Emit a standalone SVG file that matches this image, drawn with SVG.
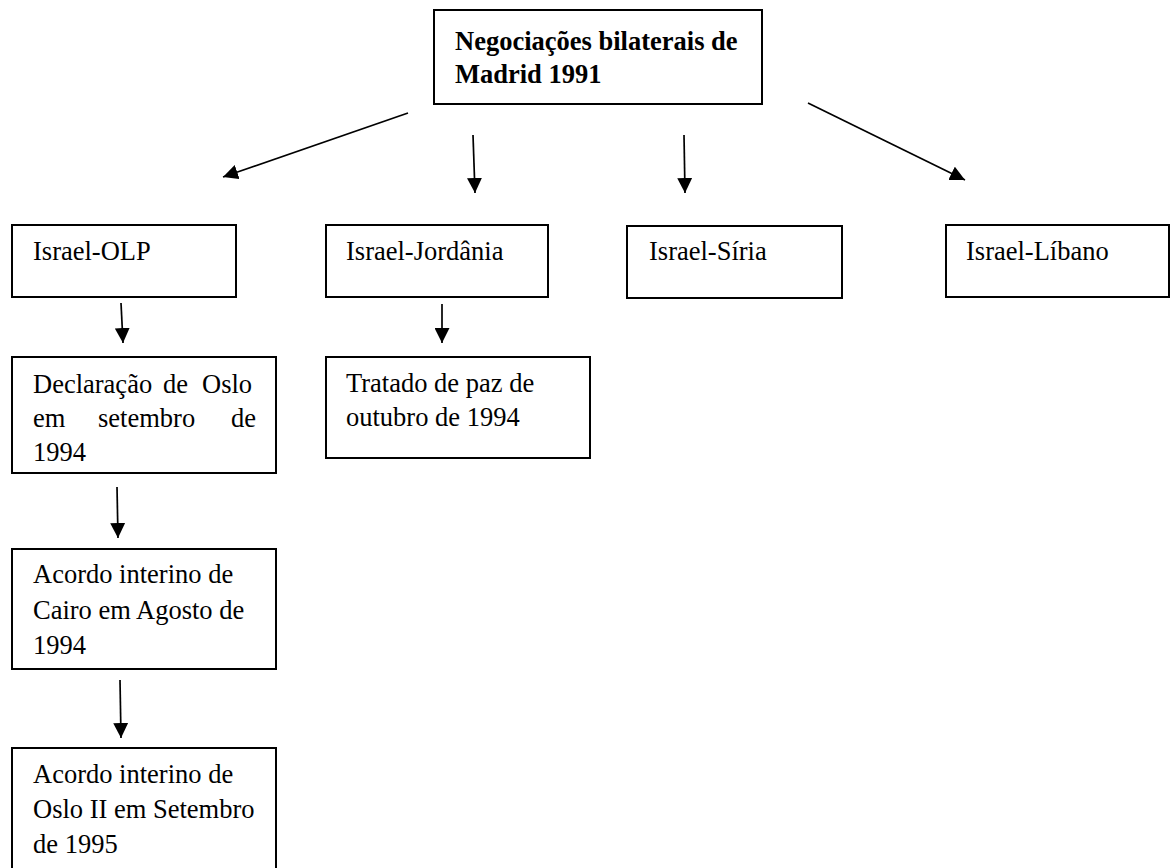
<svg xmlns="http://www.w3.org/2000/svg" width="1170" height="868" viewBox="0 0 1170 868">
<style>
  .box { fill: #ffffff; stroke: #000000; stroke-width: 2; }
  .t { font-family: "Liberation Serif", "Times New Roman", serif; font-size: 26.5px; fill: #000000; }
  .b { font-weight: bold; }
  .conn { stroke: #000000; stroke-width: 1.7; fill: none; marker-end: url(#arrow); }
</style>
<defs>
  <marker id="arrow" markerUnits="userSpaceOnUse" markerWidth="16" markerHeight="15" refX="15" refY="7.5" orient="auto">
    <path d="M0,0 L15,7.5 L0,15 z" fill="#000000"/>
  </marker>
</defs>
<rect width="1170" height="868" fill="#ffffff"/>

<g id="connectors">
  <line class="conn" x1="408" y1="113" x2="223" y2="177"/>
  <line class="conn" x1="473" y1="135" x2="475" y2="193"/>
  <line class="conn" x1="684" y1="135" x2="685" y2="193"/>
  <line class="conn" x1="808" y1="103" x2="965" y2="180"/>
  <line class="conn" x1="121" y1="303" x2="123" y2="343"/>
  <line class="conn" x1="442" y1="304" x2="442" y2="343"/>
  <line class="conn" x1="117" y1="487" x2="118" y2="538"/>
  <line class="conn" x1="120" y1="680" x2="121" y2="738"/>
</g>

<g id="node-madrid">
  <rect class="box" x="434" y="10" width="328" height="94"/>
  <text class="t b" x="455" y="50">Negociações bilaterais de</text>
  <text class="t b" x="455" y="83">Madrid 1991</text>
</g>

<g id="node-olp">
  <rect class="box" x="12" y="225" width="224" height="72"/>
  <text class="t" x="33" y="260">Israel-OLP</text>
</g>

<g id="node-jordania">
  <rect class="box" x="326" y="225" width="222" height="72"/>
  <text class="t" x="346" y="260">Israel-Jordânia</text>
</g>

<g id="node-siria">
  <rect class="box" x="627" y="226" width="215" height="72"/>
  <text class="t" x="649" y="260">Israel-Síria</text>
</g>

<g id="node-libano">
  <rect class="box" x="946" y="225" width="223" height="72"/>
  <text class="t" x="966" y="260">Israel-Líbano</text>
</g>

<g id="node-oslo">
  <rect class="box" x="12" y="357" width="264" height="116"/>
  <text class="t" y="393"><tspan x="33">Declaração</tspan><tspan x="163">de</tspan><tspan x="202">Oslo</tspan></text>
  <text class="t" y="427"><tspan x="33">em</tspan><tspan x="98">setembro</tspan><tspan x="231">de</tspan></text>
  <text class="t" x="33" y="461">1994</text>
</g>

<g id="node-tratado">
  <rect class="box" x="326" y="357" width="264" height="101"/>
  <text class="t" x="346" y="392">Tratado de paz de</text>
  <text class="t" x="346" y="426">outubro de 1994</text>
</g>

<g id="node-cairo">
  <rect class="box" x="12" y="549" width="264" height="120"/>
  <text class="t" x="33" y="583">Acordo interino de</text>
  <text class="t" x="33" y="619">Cairo em Agosto de</text>
  <text class="t" x="33" y="654">1994</text>
</g>

<g id="node-oslo2">
  <rect class="box" x="12" y="748" width="264" height="140"/>
  <text class="t" x="33" y="783">Acordo interino de</text>
  <text class="t" x="33" y="818">Oslo II em Setembro</text>
  <text class="t" x="33" y="853">de 1995</text>
</g>
</svg>
